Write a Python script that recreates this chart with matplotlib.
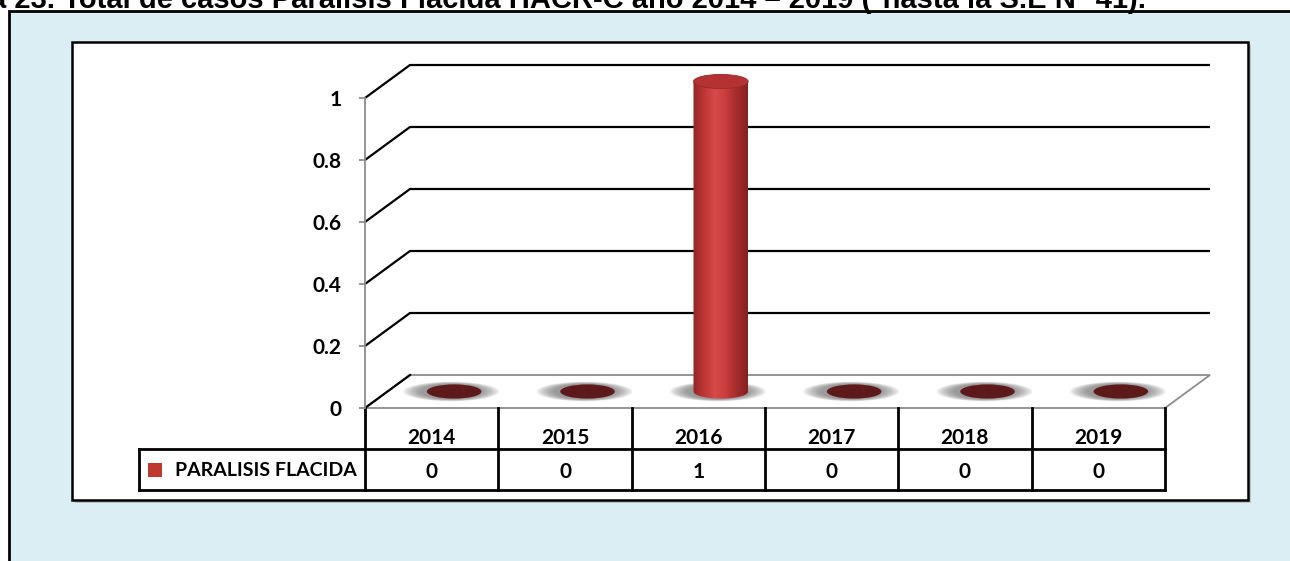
import numpy as np
import matplotlib
matplotlib.use("Agg")
import matplotlib.pyplot as plt
from matplotlib.patches import Rectangle, Polygon, Ellipse
from matplotlib.colors import LinearSegmentedColormap

# === DATA ===
years = ["2014", "2015", "2016", "2017", "2018", "2019"]
casos = [0, 0, 1, 0, 0, 0]
serie = "PARALISIS FLACIDA"
yticks = [0, 0.2, 0.4, 0.6, 0.8, 1]
ytick_labels = ["0", "0.2", "0.4", "0.6", "0.8", "1"]
titulo = "a 23. Total de casos Paralisis Flacida HACR-C año 2014 – 2019 (*hasta la S.E N° 41)."

# === LAYOUT (pixels, origin top-left) ===
W, H = 1290, 561
DX, DY = 45, 33          # depth of the 3d box
BAR_W = 0.41             # column width in category units
ROW1, ROW2 = 449, 490    # table row bottoms
LEG_LEFT = 139
FS = 15

plt.rcParams['font.family'] = ["Lato", "DejaVu Sans"]

fig = plt.figure(figsize=(W / 100, H / 100), dpi=100)
fig.patch.set_facecolor("white")

# background axes in pixel units (y up, same as display coords)
bg = fig.add_axes([0, 0, 1, 1])
bg.set_xlim(0, W)
bg.set_ylim(0, H)
bg.axis("off")

# title, mostly cut by the top edge (as in the source page)
bg.text(-10, H - 8, titulo, fontsize=21, fontweight="bold",
        family=["Liberation Sans", "DejaVu Sans"], va="baseline", ha="left")

# light blue panel
bg.add_patch(Rectangle((9, -20), W + 20, H - 11 + 20, facecolor="#DAEEF3",
                       edgecolor="black", lw=2))
# white chart area with shadow
bg.add_patch(Rectangle((75, H - 503), 1176, 458, facecolor="#9a9a9a",
                       edgecolor="none", alpha=0.5))
bg.add_patch(Rectangle((72, H - 500), 1176, 458, facecolor="white",
                       edgecolor="black", lw=1.8))

# data axes: categories on x, value on y
ax = fig.add_axes([365 / W, (H - 408) / H, 800 / W, 310 / H])
ax.set_xlim(-0.5, len(years) - 0.5)
ax.set_ylim(0, 1)
ax.patch.set_alpha(0)
for s in ["top", "right", "bottom"]:
    ax.spines[s].set_visible(False)
ax.spines["left"].set_color("#8c8c8c")
ax.spines["left"].set_linewidth(1.3)
ax.set_xticks([])
ax.set_yticks(yticks)
ax.set_yticklabels(ytick_labels, fontsize=FS, fontweight="bold")
ax.tick_params(axis="y", color="#8c8c8c", length=4, width=1.3, pad=13)
ax.zorder = 5


def to_px(x, y):
    return ax.transData.transform((x, y))


x0, x1 = -0.5, len(years) - 0.5

# back wall gridlines
for v in yticks[1:]:
    f = to_px(x0, v)
    r = to_px(x1, v)
    bg.plot([f[0], f[0] + DX, r[0] + DX], [f[1], f[1] + DY, r[1] + DY],
            color="black", lw=1.6, solid_capstyle="butt", zorder=2)

# floor
fl, fr = to_px(x0, 0), to_px(x1, 0)
floor = Polygon([fl, fr, (fr[0] + DX, fr[1] + DY), (fl[0] + DX, fl[1] + DY)],
                closed=True, facecolor="white", edgecolor="#8c8c8c", lw=1.3, zorder=2)
bg.add_patch(floor)
bg.plot([fl[0], fl[0] + DX], [fl[1], fl[1] + DY], color="black", lw=1.6, zorder=3)

# columns
grad = LinearSegmentedColormap.from_list(
    "cyl", ["#922626", "#bf3636", "#d64a4a", "#c83c3c", "#a42c2c", "#862020"])
gimg = np.linspace(0, 1, 256).reshape(1, -1)

for i, val in enumerate(casos):
    b = to_px(i, 0) + np.array([DX / 2, DY / 2])
    lft = to_px(i - BAR_W / 2, 0)[0] + DX / 2
    rgt = to_px(i + BAR_W / 2, 0)[0] + DX / 2
    w = rgt - lft
    eh = 0.26 * w
    # soft shadow on the floor
    for k in range(8):
        s = 1.75 - k * 0.09
        bg.add_patch(Ellipse((b[0] - 3, b[1]), w * s, eh * (1.05 + 0.04 * (8 - k)),
                             facecolor="#6e6e6e", edgecolor="none", alpha=0.13, zorder=3))
    if val == 0:
        bg.add_patch(Ellipse(b, w, eh, facecolor="#5e1a1a", edgecolor="none", zorder=4))
    else:
        t = to_px(i, val) + np.array([DX / 2, DY / 2])
        # outline: left top -> lower arc -> right top
        arc = [(b[0] + w / 2 * np.cos(a), b[1] + eh / 2 * np.sin(a))
               for a in np.linspace(-np.pi, 0, 60)]
        verts = [(lft, t[1])] + arc + [(rgt, t[1])]
        body = Polygon(verts, closed=True, facecolor="none", edgecolor="none")
        bg.add_patch(body)
        im = bg.imshow(gimg, cmap=grad, aspect="auto", interpolation="bilinear",
                       extent=[lft, rgt, b[1] - eh / 2, t[1]], zorder=4)
        im.set_clip_path(body)
        bg.add_patch(Ellipse(t, w, eh, facecolor="#b53232", edgecolor="#9a2828",
                             lw=0.6, zorder=4.5))

bg.set_xlim(0, W)
bg.set_ylim(0, H)

# data table under the chart
ytop = fl[1]
for k in range(len(years) + 1):
    xk = to_px(k - 0.5, 0)[0]
    bg.plot([xk, xk], [ytop, H - ROW2], color="black", lw=2, zorder=6)
bg.plot([LEG_LEFT, LEG_LEFT], [H - ROW1, H - ROW2], color="black", lw=2, zorder=6)
bg.plot([LEG_LEFT, fr[0]], [H - ROW1, H - ROW1], color="black", lw=2, zorder=6)
bg.plot([LEG_LEFT, fr[0]], [H - ROW2, H - ROW2], color="black", lw=2, zorder=6)

for i, (yr, val) in enumerate(zip(years, casos)):
    xc = to_px(i, 0)[0]
    bg.text(xc, H - ROW1 + 1, yr, ha="center", va="bottom", fontsize=FS,
            fontweight="bold", zorder=7)
    bg.text(xc, H - (ROW1 + ROW2) / 2, str(val), ha="center", va="center_baseline",
            fontsize=FS, fontweight="bold", zorder=7)

# legend key in the table
ymid = H - (ROW1 + ROW2) / 2
bg.add_patch(Rectangle((LEG_LEFT + 9, ymid - 7), 14, 14, facecolor="#c0392f",
                       edgecolor="none", zorder=7))
bg.text(fl[0] - 8, ymid, serie, ha="right", va="center_baseline", fontsize=14,
        fontweight="bold", zorder=7)

fig.savefig("out.png", dpi=100)
